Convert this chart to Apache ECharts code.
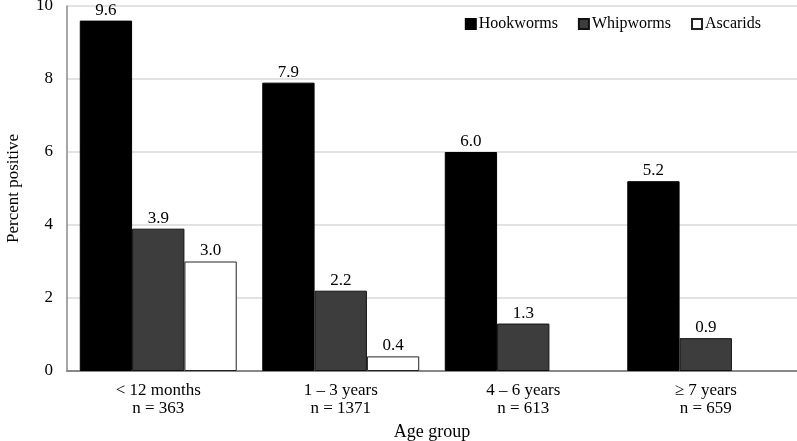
<!DOCTYPE html>
<html>
<head>
<meta charset="utf-8">
<script src="https://cdn.jsdelivr.net/npm/echarts@6/dist/echarts.min.js"></script>
<style>html,body{margin:0;padding:0;background:#fff}#c{width:797px;height:441px}</style>
</head>
<body>
<div id="c"></div>
<script>
const categories = ['< 12 months\nn = 363', '1 – 3 years\nn = 1371', '4 – 6 years\nn = 613', '≥ 7 years\nn = 659'];
const hookworms = [9.6, 7.9, 6.0, 5.2];
const whipworms = [3.9, 2.2, 1.3, 0.9];
const ascarids = [3.0, 0.4, 0, 0];
const yTicks = [0, 2, 4, 6, 8, 10];

const font = '"Liberation Serif", "Times New Roman", serif';
const chart = echarts.init(document.getElementById('c'));
const lbl = {
  show: true, position: 'top', distance: 2, color: '#000', fontFamily: font, fontSize: 17,
  formatter: p => p.value > 0 ? p.value.toFixed(1) : ''
};
const toItems = arr => arr.map(v => v > 0 ? v : { value: v, itemStyle: { borderWidth: 0 } });
chart.setOption({
  animation: false,
  textStyle: { fontFamily: font },
  grid: { left: 67, right: 0, top: 6, bottom: 70, containLabel: false, outerBoundsMode: 'none' },
  legend: {
    top: 11, right: 31, itemWidth: 10, itemHeight: 10, itemGap: 20,
    icon: 'rect',
    textStyle: { fontFamily: font, fontSize: 16, color: '#000', padding: [0, 0, 0, -2] },
    data: ['Hookworms', 'Whipworms', 'Ascarids']
  },
  xAxis: {
    type: 'category', data: categories,
    name: 'Age group', nameLocation: 'middle', nameGap: 48,
    nameTextStyle: { fontFamily: font, fontSize: 18, color: '#000' },
    axisLine: { lineStyle: { color: '#888', width: 2 } },
    axisTick: { show: false },
    axisLabel: { color: '#000', fontFamily: font, fontSize: 17, lineHeight: 18, margin: 11 }
  },
  yAxis: {
    type: 'value', min: 0, max: 10, interval: 2,
    name: 'Percent positive', nameLocation: 'middle', nameGap: 45,
    nameTextStyle: { fontFamily: font, fontSize: 17, color: '#000' },
    axisLine: { show: true, lineStyle: { color: '#888', width: 1.5 } },
    axisTick: { show: false },
    axisLabel: { color: '#000', fontFamily: font, fontSize: 17, margin: 14,
      formatter: v => yTicks.includes(v) ? String(v) : '' },
    splitLine: { lineStyle: { color: '#d9d9d9', width: 1.5 } }
  },
  series: [
    { name: 'Hookworms', type: 'bar', data: toItems(hookworms), barGap: '0%', barCategoryGap: '14%',
      itemStyle: { color: '#000', borderColor: '#000', borderWidth: 1 }, label: lbl },
    { name: 'Whipworms', type: 'bar', data: toItems(whipworms),
      itemStyle: { color: '#3d3d3d', borderColor: '#111', borderWidth: 1 }, label: lbl },
    { name: 'Ascarids', type: 'bar', data: toItems(ascarids),
      itemStyle: { color: '#fff', borderColor: '#222', borderWidth: 1 }, label: lbl }
  ]
});
</script>
</body>
</html>
